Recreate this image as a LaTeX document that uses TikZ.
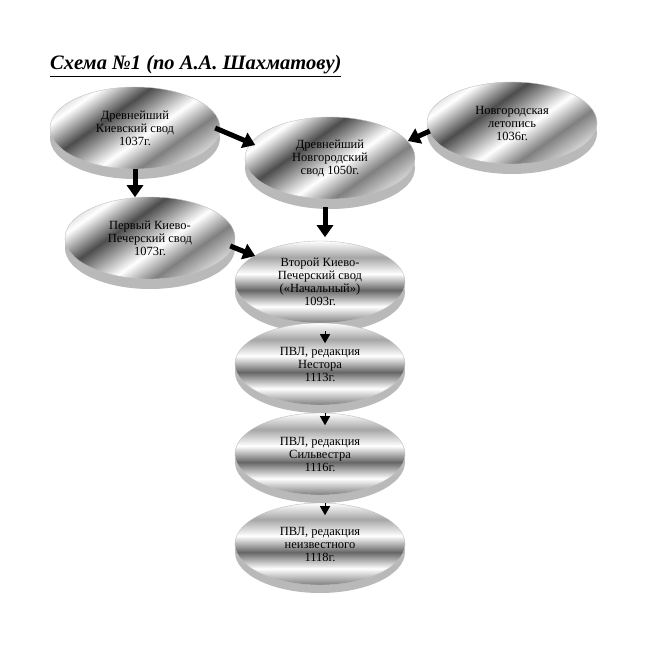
\documentclass[tikz,border=0pt]{standalone}
\usepackage{fontspec}
\setmainfont{Liberation Serif}
\usetikzlibrary{shapes.geometric,arrows.meta}
\pgfdeclareverticalshading{metal}{100bp}{color(0bp)=(gray!60);color(20bp)=(white);color(35bp)=(gray);color(45bp)=(white);color(60bp)=(black!70);color(72bp)=(white);color(85bp)=(gray!80);color(100bp)=(white)}
\pgfdeclarehorizontalshading{stripes}{100bp}{color(0bp)=(gray!40);color(15bp)=(white);color(25bp)=(gray);color(35bp)=(white);color(45bp)=(black!60);color(55bp)=(white);color(65bp)=(gray!70);color(75bp)=(white);color(85bp)=(black!50);color(100bp)=(white)}
\begin{document}
\begin{tikzpicture}[x=1pt,y=-1pt,
  el/.style={ellipse,draw=gray!50,minimum width=170pt,minimum height=82pt,shading=metal,shading angle=35,align=center,font=\fontsize{12.5}{13}\selectfont,inner sep=0pt},
  el2/.style={el,shading=stripes,shading angle=90},
  base/.style={ellipse,fill=gray!55,minimum width=170pt,minimum height=82pt,draw=none},
  big/.style={-{Triangle[length=12pt,width=16pt]},line width=5pt},
  sm/.style={-{Triangle[length=9pt,width=10pt]},line width=1pt}]
\useasboundingbox (0,0) rectangle (652,658);
\node[font=\fontsize{20.5}{22}\selectfont\bfseries\itshape,anchor=west,inner sep=0pt] (t) at (50,66) {\underline{Схема №1 (по А.А. Шахматову)}};
\foreach \x/\y in {135/138,330/168,512/133,150/248,320/292,320/372,320/462,320/552}{\node[base] at (\x,\y) {};}
\node[el] (a) at (135,128) {Древнейший\\Киевский свод\\1037г.};
\node[el] (b) at (330,158) {Древнейший\\Новгородский\\свод 1050г.};
\node[el] (c) at (512,123) {Новгородская\\летопись\\1036г.};
\node[el] (d) at (150,238) {Первый Киево-\\Печерский свод\\1073г.};
\node[el2] (e) at (320,282) {Второй Киево-\\Печерский свод\\(«Начальный»)\\1093г.};
\node[el2] (f) at (320,364) {ПВЛ, редакция\\Нестора\\1113г.};
\node[el2] (g) at (320,454) {ПВЛ, редакция\\Сильвестра\\1116г.};
\node[el2] (h) at (320,544) {ПВЛ, редакция\\неизвестного\\1118г.};
\draw[big] (a.east) ++(-5,0) -- ++(40,17);
\draw[big] (c.west) ++(3,8) -- ++(-22,10);
\draw[big] (a.south) -- ++(0,28);
\draw[big] (b.south) ++(-5,8) -- ++(0,30);
\draw[big] (d.east) ++(-5,8) -- ++(25,10);
\draw[sm] (e.south) ++(5,8) -- ++(0,12);
\draw[sm] (f.south) ++(5,8) -- ++(0,12);
\draw[sm] (g.south) ++(5,8) -- ++(0,12);
\end{tikzpicture}
\end{document}
